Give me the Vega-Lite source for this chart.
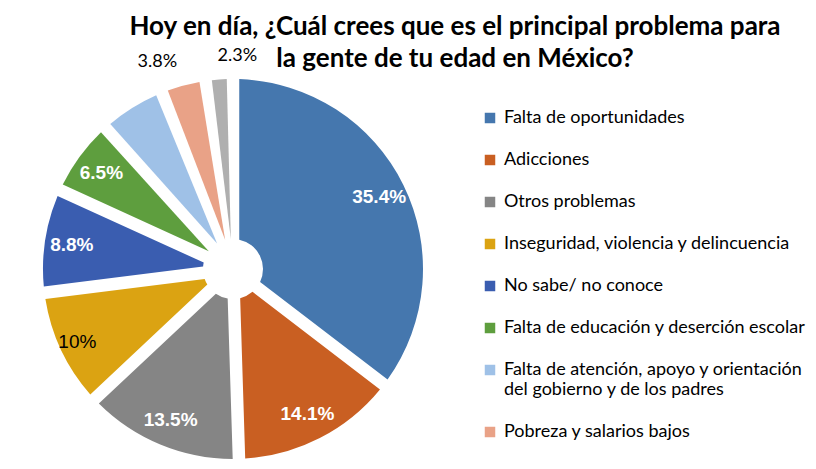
{
  "$schema": "https://vega.github.io/schema/vega-lite/v6.json",
  "width": 466,
  "height": 398,
  "autosize": {"type": "none"},
  "padding": {"top": 70, "left": 0, "right": 350, "bottom": 0},
  "background": "white",
  "title": {
    "text": ["Hoy en día, ¿Cuál crees que es el principal problema para", "la gente de tu edad en México?"],
    "font": "Lato",
    "fontSize": 26,
    "fontWeight": "bold",
    "color": "#000000",
    "anchor": "middle",
    "dx": 222,
    "offset": -25,
    "lineHeight": 32
  },
  "data": {
    "values": [
      {"categoria": "Falta de oportunidades", "valor": 0.354, "orden": 1},
      {"categoria": "Adicciones", "valor": 0.141, "orden": 2},
      {"categoria": "Otros problemas", "valor": 0.135, "orden": 3},
      {"categoria": "Inseguridad, violencia y delincuencia", "valor": 0.10, "orden": 4},
      {"categoria": "No sabe/ no conoce", "valor": 0.088, "orden": 5},
      {"categoria": "Falta de educación y deserción escolar", "valor": 0.065, "orden": 6},
      {"categoria": "Falta de atención, apoyo y orientación del gobierno y de los padres", "valor": 0.056, "orden": 7},
      {"categoria": "Pobreza y salarios bajos", "valor": 0.038, "orden": 8},
      {"categoria": "Otro", "valor": 0.023, "orden": 9}
    ]
  },
  "encoding": {
    "theta": {"field": "valor", "type": "quantitative", "stack": true},
    "order": {"field": "orden", "type": "quantitative"}
  },
  "layer": [
    {
      "mark": {"type": "arc", "outerRadius": 190, "innerRadius": 30, "padAngle": 0.065},
      "encoding": {
        "color": {
          "field": "categoria",
          "type": "nominal",
          "scale": {
            "domain": ["Falta de oportunidades", "Adicciones", "Otros problemas", "Inseguridad, violencia y delincuencia", "No sabe/ no conoce", "Falta de educación y deserción escolar", "Falta de atención, apoyo y orientación del gobierno y de los padres", "Pobreza y salarios bajos", "Otro"],
            "range": ["#4577AE", "#C95F22", "#858585", "#DBA312", "#3A5DB0", "#5E9E3E", "#9FC1E7", "#E9A287", "#AFAFAF"]
          },
          "legend": {
            "orient": "none",
            "legendX": 481,
            "legendY": 39,
            "title": null,
            "values": ["Falta de oportunidades", "Adicciones", "Otros problemas", "Inseguridad, violencia y delincuencia", "No sabe/ no conoce", "Falta de educación y deserción escolar", "Falta de atención, apoyo y orientación del gobierno y de los padres", "Pobreza y salarios bajos"],
            "symbolType": "square",
            "symbolSize": 110,
            "symbolStrokeWidth": 0,
            "labelFont": "Lato",
            "labelFontSize": 18,
            "labelColor": "#000000",
            "labelLimit": 400,
            "labelOffset": 5,
            "rowPadding": 24,
            "padding": 0,
            "labelExpr": "datum.label == 'Falta de atención, apoyo y orientación del gobierno y de los padres' ? ['Falta de atención, apoyo y orientación', 'del gobierno y de los padres'] : datum.label"
          }
        }
      }
    },
    {
      "mark": {"type": "text", "radius": 163, "font": "Liberation Sans", "fontSize": 19, "fontWeight": "bold", "color": "white"},
      "encoding": {
        "text": {"condition": {"test": "datum.valor >= 0.06 && datum.orden != 4", "field": "valor", "type": "quantitative", "format": ".1~%"}, "value": ""}
      }
    },
    {
      "mark": {"type": "text", "radius": 172, "font": "Liberation Sans", "fontSize": 19, "color": "black"},
      "encoding": {
        "text": {"condition": {"test": "datum.orden == 4", "field": "valor", "type": "quantitative", "format": ".1~%"}, "value": ""}
      }
    },
    {
      "mark": {"type": "text", "radius": 214, "align": "right", "font": "Lato", "fontSize": 18, "color": "black"},
      "encoding": {
        "text": {"condition": {"test": "datum.orden == 8", "field": "valor", "type": "quantitative", "format": ".1~%"}, "value": ""}
      }
    },
    {
      "mark": {"type": "text", "radius": 214, "align": "left", "font": "Lato", "fontSize": 18, "color": "black"},
      "encoding": {
        "text": {"condition": {"test": "datum.orden == 9", "field": "valor", "type": "quantitative", "format": ".1~%"}, "value": ""}
      }
    }
  ],
  "config": {"view": {"stroke": null}}
}
